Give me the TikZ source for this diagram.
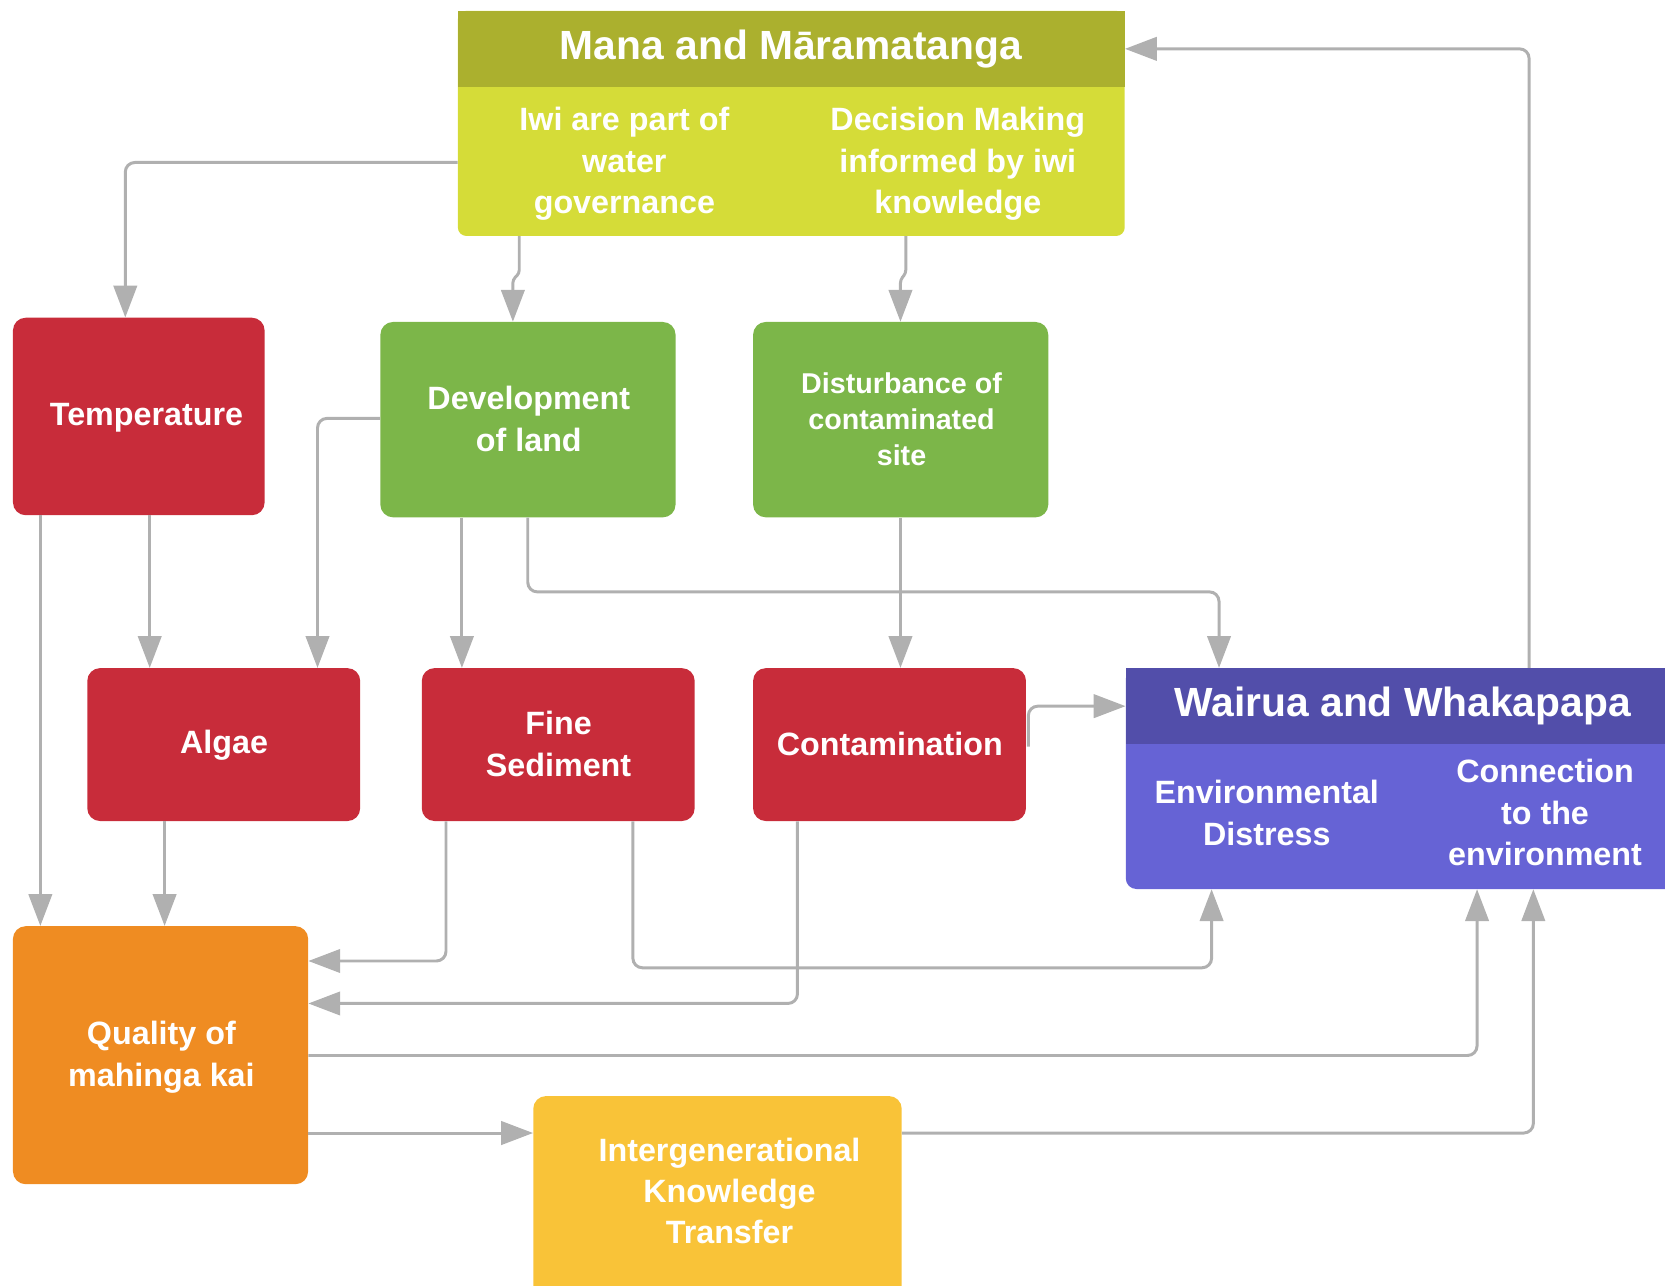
\documentclass[tikz,border=0pt]{standalone}
\usepackage{fontspec}
\setmainfont{Liberation Sans}
\usetikzlibrary{arrows.meta,calc}
\definecolor{cManaH}{HTML}{ABB02E}
\definecolor{cManaB}{HTML}{D5DC38}
\definecolor{cRed}{HTML}{C82C3A}
\definecolor{cGreen}{HTML}{7CB649}
\definecolor{cWaiH}{HTML}{524EAA}
\definecolor{cWaiB}{HTML}{6663D5}
\definecolor{cOrange}{HTML}{EF8C22}
\definecolor{cYellow}{HTML}{F9C338}
\definecolor{cArrow}{HTML}{B0B0B0}
\begin{document}
\begin{tikzpicture}[x=1pt,y=-1pt,
  box/.style={draw=none, rounded corners=12pt, anchor=north west, inner sep=0pt},
  lbl/.style={text=white, font=\bfseries\fontsize{30.4}{39}\selectfont, align=center, inner sep=0pt, yshift=-1.5pt},
  ttl/.style={text=white, font=\bfseries\fontsize{38.4}{46}\selectfont, align=center, inner sep=0pt, yshift=-2.5pt},
  sml/.style={text=white, font=\bfseries\fontsize{27}{34}\selectfont, align=center, inner sep=0pt, yshift=-0.5pt},
  arr/.style={draw=cArrow, line width=2.8pt, rounded corners=9pt, -{Triangle[length=30pt,width=22pt]}}
]
\useasboundingbox (0,0) rectangle (1568,1211);
\clip (0,0) rectangle (1568,1211);

% Mana and Maramatanga
\node[box, fill=cManaB, rounded corners=8pt, minimum width=628pt, minimum height=212pt] (mana) at (431,10) {};
\fill[cManaH] (mana.north west) rectangle ($(mana.north east)+(0,72)$);
\node[ttl] (manaT) at (745,44) {Mana and Māramatanga};
\node[lbl] (manaL) at (588,153) {Iwi are part of\\water\\governance};
\node[lbl] (manaR) at (902,153) {Decision Making\\informed by iwi\\knowledge};

% second row
\node[box, fill=cRed, minimum width=237pt, minimum height=186pt] (temp) at (12,299) {};
\node[lbl] (tempT) at (138,392) {Temperature};
\node[box, fill=cGreen, minimum width=278pt, minimum height=184pt] (dev) at (358,303) {};
\node[lbl] (devT) at (498,393) {Development\\of land};
\node[box, fill=cGreen, minimum width=278pt, minimum height=184pt] (dist) at (709,303) {};
\node[sml] (distT) at (849,394) {Disturbance of\\contaminated\\site};

% third row
\node[box, fill=cRed, minimum width=257pt, minimum height=144pt] (algae) at (82,629) {};
\node[lbl] (algaeT) at (211,700) {Algae};
\node[box, fill=cRed, minimum width=257pt, minimum height=144pt] (fine) at (397,629) {};
\node[lbl] (fineT) at (526,699) {Fine\\Sediment};
\node[box, fill=cRed, minimum width=257pt, minimum height=144pt] (cont) at (709,629) {};
\node[lbl] (contT) at (838,699) {Contamination};

% Wairua and Whakapapa
\node[box, fill=cWaiB, rounded corners=10pt, minimum width=522pt, minimum height=208pt] (wai) at (1060,629) {};
\fill[cWaiH] (wai.north west) rectangle ($(wai.north east)+(0,72)$);
\node[ttl] (waiT) at (1321,662) {Wairua and Whakapapa};
\node[lbl] (waiL) at (1193,764) {Environmental\\Distress};
\node[lbl] (waiR) at (1455,764) {Connection\\to the\\environment};

% bottom
\node[box, fill=cOrange, minimum width=278pt, minimum height=243pt] (qual) at (12,872) {};
\node[lbl] (qualT) at (152,994) {Quality of\\mahinga kai};
\node[box, fill=cYellow, minimum width=347pt, minimum height=200pt] (inter) at (502,1032) {};
\node[lbl] (interT) at (687,1120) {Intergenerational\\Knowledge\\Transfer};

% connectors
\draw[arr] ($(mana.north west)+(0,143)$) -| ($(temp.north west)+(106,0)$);
\draw[arr, rounded corners=3pt] ($(mana.south west)+(58,0)$) -- ++(0,35) -- ++(-6,6) -- ($(dev.north west)+(125,0)$);
\draw[arr, rounded corners=3pt] ($(mana.south west)+(422,0)$) -- ++(0,35) -- ++(-5,6) -- ($(dist.north west)+(139,0)$);
\draw[arr] ($(wai.north west)+(380,0)$) |- ($(mana.north east)+(0,36)$);

\draw[arr] ($(temp.south west)+(26,0)$) -- ($(qual.north west)+(26,0)$);
\draw[arr] ($(temp.south west)+(129,0)$) -- ($(algae.north west)+(59,0)$);
\draw[arr] ($(dev.north west)+(0,91)$) -| ($(algae.north west)+(217,0)$);
\draw[arr] ($(dev.south west)+(77,0)$) -- ($(fine.north west)+(38,0)$);
\draw[arr] ($(dev.south west)+(139,0)$) -- ++(0,70) -| ($(wai.north west)+(88,0)$);
\draw[arr] ($(dist.south west)+(139,0)$) -- ($(cont.north west)+(139,0)$);
\draw[arr] ($(cont.north east)+(2,74)$) |- ($(wai.north west)+(0,36)$);

\draw[arr] ($(algae.south west)+(73,0)$) -- ($(qual.north west)+(143,0)$);
\draw[arr] ($(fine.south west)+(23,0)$) |- ($(qual.north east)+(0,33)$);
\draw[arr] ($(fine.south west)+(199,0)$) -- ++(0,138) -| ($(wai.south west)+(81,0)$);
\draw[arr] ($(cont.south west)+(42,0)$) |- ($(qual.north east)+(0,73)$);
\draw[arr] ($(qual.north east)+(0,122)$) -| ($(wai.south west)+(331,0)$);
\draw[arr] ($(qual.north east)+(0,195)$) -- ($(inter.north west)+(0,35)$);
\draw[arr] ($(inter.north east)+(0,35)$) -| ($(wai.south west)+(384,0)$);
\end{tikzpicture}
\end{document}
